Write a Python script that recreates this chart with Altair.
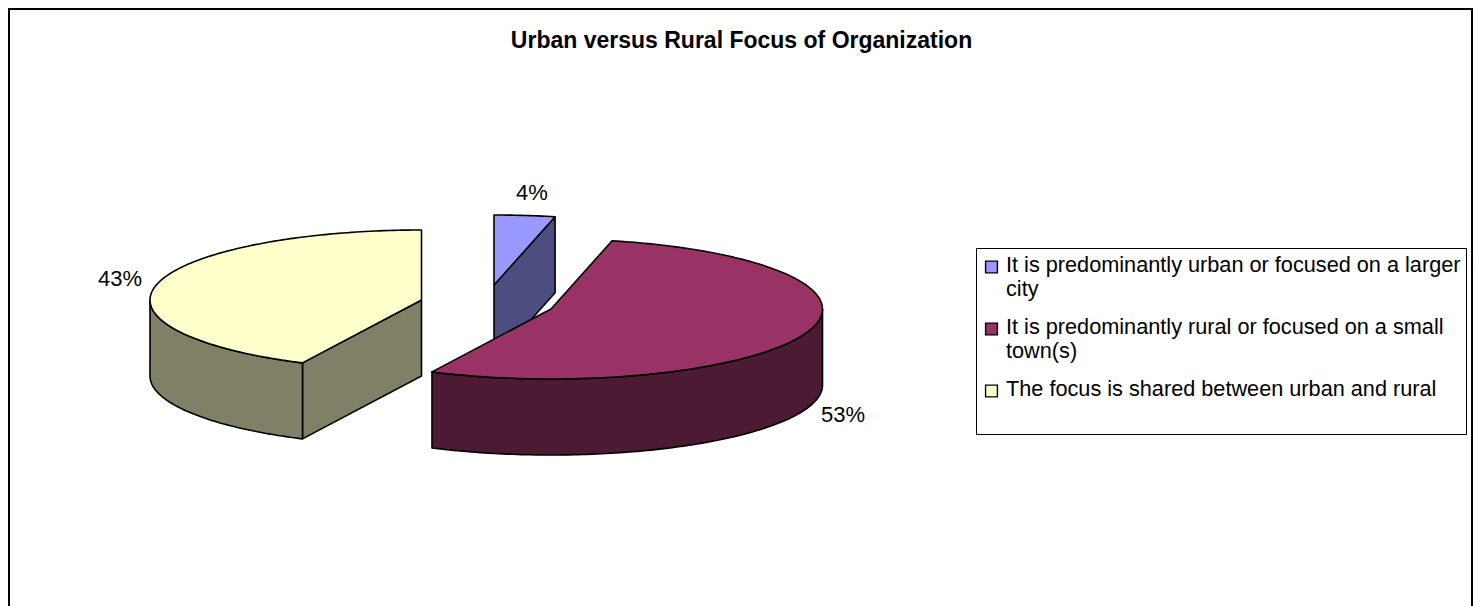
import math
import altair as alt
import pandas as pd

TITLE = "Urban versus Rural Focus of Organization"
CATEGORIES = [
    "It is predominantly urban or focused on a larger\ncity",
    "It is predominantly rural or focused on a small\ntown(s)",
    "The focus is shared between urban and rural",
]
VALUES = [4, 53, 43]
TOP_COLORS = ["#9999FF", "#993366", "#FFFFCC"]
SIDE_COLORS = ["#4D4D80", "#4D1A33", "#808066"]
# slice edges as they appear after the 3-D tilt (degrees clockwise from the back)
EDGE_ANGLES = [0, 13, 206, 360]
# exploded slice centres, in page pixels
CENTRES = [(494, 285), (551, 309), (421.5, 300)]
RX, RY, DEPTH = 271.5, 70, 76
LABEL_POS = [(532, 193), (843, 415), (120, 279)]
LEGEND_Y = [267, 329, 391]

X = alt.Scale(domain=[8, 1473], range=[0, 1465], nice=False, zero=False)
Y = alt.Scale(domain=[606, 8], range=[598, 0], nice=False, zero=False)


def rim(i, a0, a1, dy=0):
    cx, cy = CENTRES[i]
    n = max(2, int(abs(a1 - a0)) + 1)
    out = []
    for k in range(n + 1):
        a = math.radians(a0 + (a1 - a0) * k / n)
        out.append((cx + RX * math.sin(a), cy - RY * math.cos(a) + dy))
    return out


def face(points, fill):
    pts = list(points) + [points[0]]
    df = pd.DataFrame({"x": [p[0] for p in pts], "y": [p[1] for p in pts], "i": range(len(pts))})
    return alt.Chart(df).mark_line(fill=fill, stroke="black", strokeWidth=1.6, strokeJoin="round").encode(
        x=alt.X("x:Q", scale=X, axis=None),
        y=alt.Y("y:Q", scale=Y, axis=None),
        order="i:Q",
    )


layers = []
# blue slice: the cut face, then the top
c = CENTRES[0]
e = rim(0, EDGE_ANGLES[1], EDGE_ANGLES[1])[0]
layers.append(face([c, e, (e[0], e[1] + DEPTH), (c[0], c[1] + DEPTH)], SIDE_COLORS[0]))
layers.append(face([c] + rim(0, EDGE_ANGLES[0], EDGE_ANGLES[1]), TOP_COLORS[0]))
# maroon slice: the rim, then the top
r = rim(1, 90, EDGE_ANGLES[2])
layers.append(face(r + [(p[0], p[1] + DEPTH) for p in reversed(r)], SIDE_COLORS[1]))
layers.append(face([CENTRES[1]] + rim(1, EDGE_ANGLES[1], EDGE_ANGLES[2]), TOP_COLORS[1]))
# yellow slice: cut face, rim, top
c = CENTRES[2]
e = rim(2, EDGE_ANGLES[2], EDGE_ANGLES[2])[0]
layers.append(face([c, e, (e[0], e[1] + DEPTH), (c[0], c[1] + DEPTH)], SIDE_COLORS[2]))
r = rim(2, EDGE_ANGLES[2], 270)
layers.append(face(r + [(p[0], p[1] + DEPTH) for p in reversed(r)], SIDE_COLORS[2]))
layers.append(face([c] + rim(2, EDGE_ANGLES[2], EDGE_ANGLES[3]), TOP_COLORS[2]))

FONT = "Liberation Sans"

# chart frame (no bottom edge in the reference: it runs off the page)
frame = pd.DataFrame({"x": [9, 9, 1472, 1472], "y": [606, 9, 9, 606], "i": range(4)})
layers.append(alt.Chart(frame).mark_line(color="black", strokeWidth=2).encode(
    x=alt.X("x:Q", scale=X, axis=None), y=alt.Y("y:Q", scale=Y, axis=None), order="i:Q"))

title = pd.DataFrame({"x": [741.5], "y": [40.5], "t": [TITLE]})
layers.append(alt.Chart(title).mark_text(font=FONT, fontSize=23, fontWeight="bold", color="black").encode(
    x=alt.X("x:Q", scale=X, axis=None), y=alt.Y("y:Q", scale=Y, axis=None), text="t:N"))

labels = pd.DataFrame({"x": [p[0] for p in LABEL_POS], "y": [p[1] for p in LABEL_POS],
                       "t": [f"{v}%" for v in VALUES]})
layers.append(alt.Chart(labels).mark_text(font=FONT, fontSize=22, color="black").encode(
    x=alt.X("x:Q", scale=X, axis=None), y=alt.Y("y:Q", scale=Y, axis=None), text="t:N"))

# legend
box = pd.DataFrame({"x": [976.5], "x2": [1466.5], "y": [248.5], "y2": [434.5]})
layers.append(alt.Chart(box).mark_rect(fill="white", stroke="black", strokeWidth=1).encode(
    x=alt.X("x:Q", scale=X, axis=None), x2="x2:Q",
    y=alt.Y("y:Q", scale=Y, axis=None), y2="y2:Q"))

leg = pd.DataFrame({"x": [991.5] * 3, "tx": [1006] * 3, "y": LEGEND_Y, "ty": [y - 12 for y in LEGEND_Y],
                    "t": CATEGORIES, "c": TOP_COLORS})
layers.append(alt.Chart(leg).mark_point(shape="square", filled=True, size=140, stroke="black",
                                        strokeWidth=1.4, opacity=1).encode(
    x=alt.X("x:Q", scale=X, axis=None), y=alt.Y("y:Q", scale=Y, axis=None),
    fill=alt.Fill("c:N", scale=None)))
layers.append(alt.Chart(leg).mark_text(font=FONT, fontSize=21.7, align="left", baseline="top",
                                       lineBreak="\n", lineHeight=24, color="black").encode(
    x=alt.X("tx:Q", scale=X, axis=None), y=alt.Y("ty:Q", scale=Y, axis=None), text="t:N"))

chart = alt.layer(*layers).properties(
    width=1465, height=598,
    padding=0,
    autosize=alt.AutoSizeParams(type="none"),
).configure_view(stroke=None)

chart.save("out.html", embed_options={"renderer": "svg", "actions": False})
